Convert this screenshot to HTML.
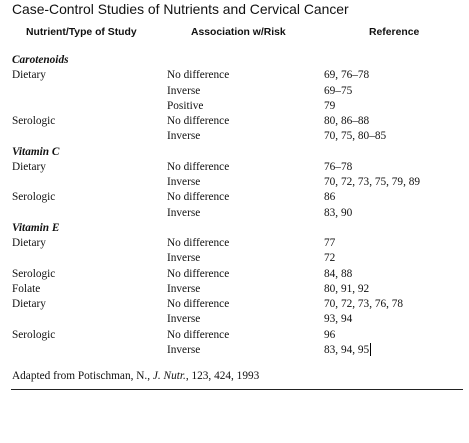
<!DOCTYPE html>
<html><head><meta charset="utf-8"><style>
body{margin:0;width:469px;height:443px;background:#fff;position:relative;overflow:hidden;font-family:"Liberation Serif",serif;color:#111}
.t{position:absolute;font-size:11.3px;line-height:14px;white-space:nowrap}
.h{font-family:"Liberation Sans",sans-serif;font-weight:bold;font-size:10.4px}
.i{font-style:italic;font-weight:bold}
</style></head><body>
<div class="t" style="left:12px;top:0px;font-size:13.9px;line-height:18px;font-family:'Liberation Sans',sans-serif;">Case-Control Studies of Nutrients and Cervical Cancer</div>
<div class="t h" style="left:26px;top:26px">Nutrient/Type of Study</div>
<div class="t h" style="left:191px;top:26px">Association w/Risk</div>
<div class="t h" style="left:369px;top:26px">Reference</div>
<div id="rows"></div>
<div class="t" style="left:12px;top:369px">Adapted from Potischman, N., <i>J. Nutr.</i>, 123, 424, 1993</div>
<div style="position:absolute;left:11px;top:389px;width:452px;height:1px;background:#222"></div>
<div style="position:absolute;left:370px;top:343px;width:1px;height:13px;background:#000"></div>
<script>
const rows=[
["Carotenoids","",""],["Dietary","No difference","69, 76–78"],["","Inverse","69–75"],["","Positive","79"],
["Serologic","No difference","80, 86–88"],["","Inverse","70, 75, 80–85"],
["Vitamin C","",""],["Dietary","No difference","76–78"],["","Inverse","70, 72, 73, 75, 79, 89"],
["Serologic","No difference","86"],["","Inverse","83, 90"],
["Vitamin E","",""],["Dietary","No difference","77"],["","Inverse","72"],
["Serologic","No difference","84, 88"],["Folate","Inverse","80, 91, 92"],
["Dietary","No difference","70, 72, 73, 76, 78"],["","Inverse","93, 94"],
["Serologic","No difference","96"],["","Inverse","83, 94, 95"]];
const heads=["Carotenoids","Vitamin C","Vitamin E"];
const c=document.getElementById('rows');
const xs=[12,167,324];
rows.forEach((r,i)=>{
  const y=60+15.25*i-7;
  r.forEach((txt,j)=>{
    if(!txt)return;
    const d=document.createElement('div');
    d.className='t'+(j===0&&heads.includes(txt)?' i':'');
    d.style.left=xs[j]+'px';d.style.top=y+'px';
    d.textContent=txt;
    
    
    c.appendChild(d);
  });
});
</script>
</body></html>
